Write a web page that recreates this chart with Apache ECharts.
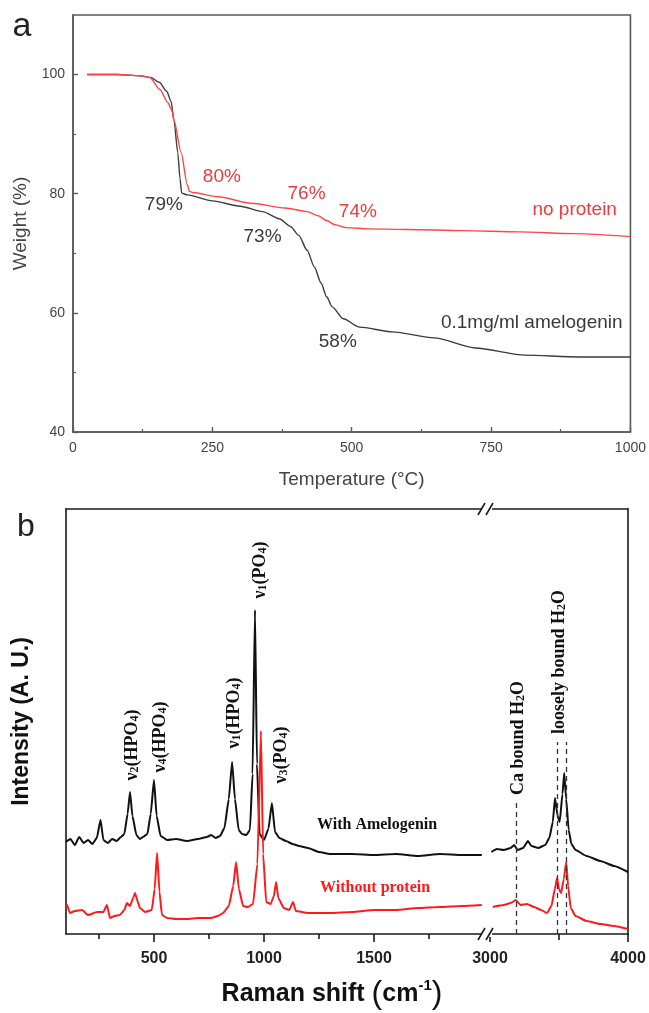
<!DOCTYPE html>
<html><head><meta charset="utf-8">
<script src="https://cdn.jsdelivr.net/npm/echarts@6/dist/echarts.min.js"></script>
<style>html,body{margin:0;padding:0;background:#fff}#c{width:649px;height:1013px}</style>
</head><body><div id="c"></div>
<script>
// ---------- Panel a : TGA (temperature °C, weight %) ----------
const tgaNoProtein = [[25,100],[80,100],[120,99.8],[138,99.5],[156,97.5],[170,95.3],[177,94.1],[181,92.4],[194,86.9],[205,81.5],[209,80.4],[215,80.2],[260,79.5],[320,78.4],[380,77.6],[420,77],[440,76.3],[455,75.5],[470,74.8],[490,74.3],[530,74.1],[600,74],[700,73.8],[800,73.6],[900,73.3],[1000,72.8]];
const tgaAmelogenin = [[25,100],[80,100],[120,99.8],[140,99.5],[155,98.7],[168,97.2],[176,95.5],[181,92.4],[188,86.9],[192,82.5],[195,80.1],[205,79.8],[250,78.8],[300,77.9],[340,77],[370,75.8],[390,74.5],[405,73],[420,70.5],[433,67.7],[445,65],[455,62.7],[465,61],[485,59],[514,57.6],[573,56.8],[648,55.8],[722,54.1],[811,52.9],[907,52.6],[1000,52.6]];
const tgaYTicks = [40,60,80,100];
const tgaYMinor = [50,70,90];
const tgaLabels = [
  [267,82.9,'80%','#f03a3a'],[419,80.0,'76%','#f03a3a'],[511,77.0,'74%','#f03a3a'],[900,77.3,'no protein','#f03a3a'],
  [163,78.2,'79%','#3a3a3a'],[340,72.8,'73%','#3a3a3a'],[475,55.1,'58%','#3a3a3a'],[823,58.3,'0.1mg/ml amelogenin','#3a3a3a']
];
// ---------- Panel b : Raman (shift cm-1, intensity a.u.) ----------
const ramanWithLeft = [[100,92],[120,95],[140,89],[160,97],[180,91],[200,94],[220,90],[240,96],[257,114],[270,94],[290,91],[310,95],[330,93],[350,97],[365,100],[380,120],[391,142],[402,118],[420,99],[435,95],[450,97],[470,100],[485,120],[500,154],[512,118],[530,98],[560,94],[600,95],[650,93],[700,95],[740,97],[760,99],[780,96],[800,98],[820,106],[840,135],[855,172],[868,135],[885,104],[900,100],[920,99],[936,104],[948,160],[959,324],[968,170],[980,100],[1000,94],[1020,105],[1036,131],[1050,102],[1070,96],[1100,93],[1130,90],[1160,88],[1200,86],[1250,82],[1300,80],[1400,80],[1500,79],[1600,80],[1700,78],[1800,80],[1900,79],[1990,79]];
const ramanWithRight = [[3010,82],[3050,85],[3100,84],[3150,86],[3175,89],[3200,84],[3240,86],[3275,93],[3300,88],[3350,86],[3400,89],[3430,96],[3455,112],[3471,136],[3490,118],[3505,112],[3525,140],[3538,161],[3552,135],[3570,104],[3590,90],[3620,84],[3700,78],[3800,73],[3900,68],[4000,62]];
const ramanWithoutLeft = [[100,27],[105,29],[118,21],[140,23],[173,24],[200,19],[241,22],[270,22],[286,29],[300,16],[320,18],[345,19],[365,24],[377,31],[391,28],[405,36],[414,41],[425,33],[436,26],[460,22],[490,24],[503,45],[514,81],[525,42],[536,19],[560,16],[600,15],[650,15],[700,16],[760,16],[790,18],[814,21],[840,28],[860,48],[873,72],[886,45],[905,28],[927,27],[950,30],[970,70],[986,203],[996,80],[1010,32],[1030,30],[1045,38],[1055,52],[1065,36],[1090,26],[1115,24],[1132,32],[1145,23],[1200,21],[1300,21],[1400,22],[1500,24],[1600,24],[1700,26],[1800,27],[1900,28],[1990,29]];
const ramanWithoutRight = [[3020,27],[3050,28],[3100,29],[3150,31],[3188,34],[3220,29],[3268,30],[3320,27],[3370,24],[3413,21],[3445,28],[3470,45],[3486,56],[3500,45],[3515,41],[3535,55],[3552,72],[3566,48],[3585,26],[3620,18],[3700,13],[3800,10],[3900,8],[4000,5]];
const ramanLeftMajor = [500,1000,1500];
const ramanLeftMinor = [250,750,1250,1750];
const waterBands = [[3188,134],[3486,192],[3551,192]];
const ramanLabels = [
  [400,189,'{m|ν}{s|2}{m|(HPO}{s|4}{m|)}',1],
  [527,197,'{m|ν}{s|4}{m|(HPO}{s|4}{m|)}',1],
  [864,221,'{m|ν}{s|1}{m|(HPO}{s|4}{m|)}',1],
  [982,364,'{m|ν}{s|1}{m|(PO}{s|4}{m|)}',1],
  [1077,179,'{m|ν}{s|3}{m|(PO}{s|4}{m|)}',1],
  [3203,196,'{m|Ca bound H}{s|2}{m|O}',2],
  [3500,272,'{m|loosely bound H}{s|2}{m|O}',2]
];
const seriesNames = [['With Amelogenin',1514,109,'#111'],['Without protein',1505,46,'#ff1a1a']];

const gA = {left:73, top:15, width:558, height:417};
const gB1 = {left:66, top:509, width:418, height:425};
const gB2 = {left:490, top:509, width:138, height:425};
const axA = '#5a5a5a', axB = '#1a1a1a';
const sans = '"Liberation Sans", Arial, sans-serif';
const serif = '"Liberation Serif", "Times New Roman", serif';
const plain = v => String(v);

const chart = echarts.init(document.getElementById('c'), null, {renderer:'canvas'});
const option = {
  animation:false,
  backgroundColor:'#fff',
  grid:[
    Object.assign({show:true, borderColor:axA, borderWidth:1.6, backgroundColor:'transparent'}, gA),
    gB1, gB2
  ],
  xAxis:[
    {gridIndex:0, type:'value', min:0, max:1000, interval:250,
     axisLine:{lineStyle:{color:axA,width:1.6}}, axisTick:{inside:true,length:5,lineStyle:{color:axA,width:1.4}},
     minorTick:{show:true,splitNumber:2,length:3,lineStyle:{color:axA,width:1.2}},
     axisLabel:{formatter:plain,fontSize:14,color:'#444',fontFamily:sans,margin:9}, splitLine:{show:false}, minorSplitLine:{show:false},
     name:'Temperature (°C)', nameLocation:'middle', nameGap:38, nameTextStyle:{fontSize:19,color:'#444',fontFamily:sans}},
    {gridIndex:1, type:'value', min:100, max:2000,
     axisLine:{lineStyle:{color:axB,width:1.6}},
     axisTick:{inside:false,length:8,customValues:ramanLeftMajor,lineStyle:{color:axB,width:1.6}},
     axisLabel:{customValues:ramanLeftMajor,formatter:plain,fontSize:16,fontWeight:'bold',color:'#222',fontFamily:sans,margin:17},
     splitLine:{show:false}},
    {gridIndex:2, type:'value', min:3000, max:4000, interval:1000,
     axisLine:{lineStyle:{color:axB,width:1.6}},
     axisTick:{inside:false,length:8,lineStyle:{color:axB,width:1.6}},
     minorTick:{show:true,splitNumber:2,length:6,lineStyle:{color:axB,width:1.6}},
     axisLabel:{formatter:plain,fontSize:16,fontWeight:'bold',color:'#222',fontFamily:sans,margin:17},
     splitLine:{show:false}, minorSplitLine:{show:false}},
    {gridIndex:1, type:'value', min:100, max:2000, position:'bottom',
     axisLine:{show:false}, axisTick:{inside:false,length:5,customValues:ramanLeftMinor,lineStyle:{color:axB,width:1.6}},
     axisLabel:{show:false}, splitLine:{show:false}},
    {gridIndex:1, type:'value', min:100, max:2000, position:'top',
     axisLine:{lineStyle:{color:axB,width:1.6}}, axisTick:{show:false}, axisLabel:{show:false}, splitLine:{show:false}},
    {gridIndex:2, type:'value', min:3000, max:4000, position:'top',
     axisLine:{lineStyle:{color:axB,width:1.6}}, axisTick:{show:false}, axisLabel:{show:false}, splitLine:{show:false}}
  ],
  yAxis:[
    {gridIndex:0, type:'value', min:40, max:110, interval:20,
     axisLine:{show:true,lineStyle:{color:axA,width:1.6}}, axisTick:{show:true,inside:true,length:5,customValues:tgaYTicks,lineStyle:{color:axA,width:1.4}},
     axisLabel:{customValues:tgaYTicks,fontSize:14,color:'#444',fontFamily:sans,margin:8},
     splitLine:{show:false},
     name:'Weight (%)', nameLocation:'middle', nameGap:42, nameTextStyle:{fontSize:19,color:'#444',fontFamily:sans}},
    {gridIndex:1, type:'value', min:0, max:425,
     axisLine:{show:true,lineStyle:{color:axB,width:1.6}}, axisTick:{show:false}, axisLabel:{show:false}, splitLine:{show:false},
     name:'Intensity (A. U.)', nameLocation:'middle', nameGap:33, nameTextStyle:{fontSize:23,fontWeight:'bold',color:'#111',fontFamily:sans}},
    {gridIndex:2, type:'value', min:0, max:425, position:'right',
     axisLine:{show:true,lineStyle:{color:axB,width:1.6}}, axisTick:{show:false}, axisLabel:{show:false}, splitLine:{show:false}},
    {gridIndex:0, type:'value', min:40, max:110, position:'left',
     axisLine:{show:false}, axisTick:{show:true,inside:true,length:3,customValues:tgaYMinor,lineStyle:{color:axA,width:1.2}},
     axisLabel:{show:false}, splitLine:{show:false}}
  ],
  series:[
    {type:'line', xAxisIndex:0, yAxisIndex:0, data:tgaNoProtein, showSymbol:false, smooth:0.25, smoothMonotone:'x',
     lineStyle:{color:'#ff4646',width:1.4}, z:3},
    {type:'line', xAxisIndex:0, yAxisIndex:0, data:tgaAmelogenin, showSymbol:false, smooth:0.25, smoothMonotone:'x',
     lineStyle:{color:'#3c3c3c',width:1.4}, z:2},
    {type:'line', xAxisIndex:1, yAxisIndex:1, data:ramanWithLeft, showSymbol:false, smooth:0.15, smoothMonotone:'x',
     lineStyle:{color:'#111',width:2}},
    {type:'line', xAxisIndex:2, yAxisIndex:2, data:ramanWithRight, showSymbol:false, smooth:0.15, smoothMonotone:'x',
     lineStyle:{color:'#111',width:2},
     markLine:{silent:true, symbol:['none','none'], label:{show:false},
       lineStyle:{color:'#333',type:[5,4],width:1.3},
       data:waterBands.map(b=>[{coord:[b[0],0]},{coord:[b[0],b[1]]}])}},
    {type:'line', xAxisIndex:1, yAxisIndex:1, data:ramanWithoutLeft, showSymbol:false, smooth:0.15, smoothMonotone:'x',
     lineStyle:{color:'#ff1a1a',width:2}},
    {type:'line', xAxisIndex:2, yAxisIndex:2, data:ramanWithoutRight, showSymbol:false, smooth:0.15, smoothMonotone:'x',
     lineStyle:{color:'#ff1a1a',width:2}}
  ]
};
chart.setOption(option);

function px(xi, yi, pt){ return chart.convertToPixel({xAxisIndex:xi, yAxisIndex:yi}, pt); }
const g = [];
g.push({type:'text', x:22, y:27, style:{text:'a', fill:'#222', font:'34px '+sans, align:'center', verticalAlign:'middle'}});
g.push({type:'text', x:26, y:527, style:{text:'b', fill:'#222', font:'32px '+sans, align:'center', verticalAlign:'middle'}});
tgaLabels.forEach(l=>{
  const p = px(0,0,[l[0],l[1]]);
  g.push({type:'text', x:p[0], y:p[1], z:10, style:{text:l[2], fill:l[3], font:'19px '+sans, align:'center', verticalAlign:'middle'}});
});
ramanLabels.forEach(l=>{
  const p = px(l[3], l[3], [l[0],l[1]]);
  g.push({type:'text', x:p[0], y:p[1], rotation:Math.PI/2, z:10, style:{text:l[2], align:'center', verticalAlign:'middle',
    rich:{m:{fontSize:18,fontWeight:'bold',fontFamily:serif,fill:'#111'}, s:{fontSize:12,fontWeight:'bold',fontFamily:serif,fill:'#111',verticalAlign:'bottom'}}}});
});
seriesNames.forEach(l=>{
  const p = px(1,1,[l[1],l[2]]);
  g.push({type:'text', x:p[0], y:p[1], z:10, style:{text:l[0], fill:l[3], font:'bold 16px '+serif, align:'center', verticalAlign:'middle'}});
});
const xMid = (gB1.left + gB2.left + gB2.width)/2 - 15;
g.push({type:'text', x:xMid, y:994, style:{text:'{a|Raman shift }{p|(}{a|cm}{u|-1}{p|)}', align:'center', verticalAlign:'middle',
  rich:{a:{fontSize:25,fontWeight:'bold',fontFamily:sans,fill:'#111'}, p:{fontSize:32,fontFamily:sans,fill:'#111'},
        u:{fontSize:15,fontWeight:'bold',fontFamily:sans,fill:'#111',verticalAlign:'top'}}}});
const xb = (gB1.left + gB1.width + gB2.left)/2;
[gB1.top, gB1.top + gB1.height].forEach(yy=>{
  g.push({type:'rect', shape:{x:xb-5, y:yy-3, width:10, height:6}, style:{fill:'#fff'}, z:20});
  g.push({type:'line', shape:{x1:xb-9, y1:yy+6, x2:xb-2, y2:yy-6}, style:{stroke:axB, lineWidth:1.6}, z:21});
  g.push({type:'line', shape:{x1:xb-1, y1:yy+6, x2:xb+6, y2:yy-6}, style:{stroke:axB, lineWidth:1.6}, z:21});
});
chart.setOption({graphic:g});
</script></body></html>
